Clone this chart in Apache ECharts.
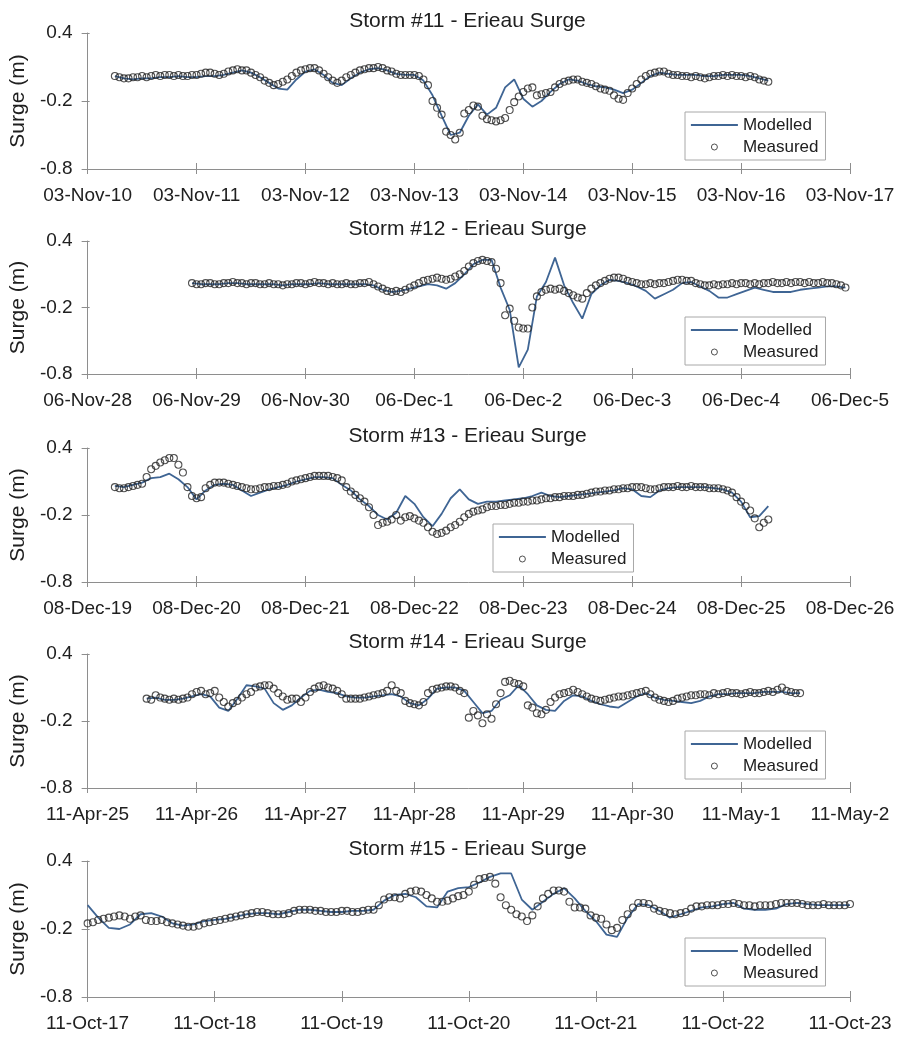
<!DOCTYPE html>
<html>
<head>
<meta charset="utf-8">
<title>Erieau Surge - Storms 11 to 15</title>
<script src="https://cdn.jsdelivr.net/npm/echarts@6/dist/echarts.min.js"></script>
<style>
  html, body { margin: 0; padding: 0; background: #ffffff; }
  #chart { width: 899px; height: 1038px; }
</style>
</head>
<body>
<div id="chart"></div>
<script>
// Storm surge at Erieau: measured hourly surge vs. modelled surge (m).
// x values are hours counted from the first date tick of each panel.

const stormTitles = [
  'Storm #11 - Erieau Surge',
  'Storm #12 - Erieau Surge',
  'Storm #13 - Erieau Surge',
  'Storm #14 - Erieau Surge',
  'Storm #15 - Erieau Surge'
];

const storm11Ticks = ['03-Nov-10', '03-Nov-11', '03-Nov-12', '03-Nov-13', '03-Nov-14', '03-Nov-15', '03-Nov-16', '03-Nov-17'];
const storm12Ticks = ['06-Nov-28', '06-Nov-29', '06-Nov-30', '06-Dec-1', '06-Dec-2', '06-Dec-3', '06-Dec-4', '06-Dec-5'];
const storm13Ticks = ['08-Dec-19', '08-Dec-20', '08-Dec-21', '08-Dec-22', '08-Dec-23', '08-Dec-24', '08-Dec-25', '08-Dec-26'];
const storm14Ticks = ['11-Apr-25', '11-Apr-26', '11-Apr-27', '11-Apr-28', '11-Apr-29', '11-Apr-30', '11-May-1', '11-May-2'];
const storm15Ticks = ['11-Oct-17', '11-Oct-18', '11-Oct-19', '11-Oct-20', '11-Oct-21', '11-Oct-22', '11-Oct-23'];

const surgeTicks = [-0.8, -0.2, 0.4];
const surgeTickLabels = ['-0.8', '-0.2', '0.4'];

const hoursPerTick = 24;
const measuredStep = 1;   // measured: hourly
const modelledStep = 2;   // modelled: every 2 hours

// ---- Storm #11 ----
const storm11MeasuredStart = 6;
const storm11Measured = [
  0.02, 0.01, 0.00, 0.00, 0.01, 0.01,
  0.02, 0.01, 0.02, 0.03, 0.02, 0.03, 0.03, 0.02, 0.03, 0.02, 0.02, 0.03,
  0.03, 0.04, 0.05, 0.05, 0.04, 0.03, 0.04, 0.06, 0.07, 0.08, 0.07, 0.07,
  0.05, 0.03, 0.01, -0.02, -0.04, -0.06, -0.05, -0.03, -0.01, 0.02, 0.05, 0.07,
  0.08, 0.09, 0.09, 0.07, 0.04, 0.01, -0.02, -0.04, -0.02, 0.01, 0.03, 0.05,
  0.07, 0.08, 0.09, 0.09, 0.10, 0.09, 0.07, 0.06, 0.04, 0.03, 0.03, 0.03,
  0.03, 0.02, -0.01, -0.06, -0.20, -0.26, -0.32, -0.47, -0.50, -0.54, -0.48, -0.31,
  -0.28, -0.24, -0.25, -0.33, -0.36, -0.37, -0.38, -0.37, -0.35, -0.28, -0.21, -0.16,
  -0.12, -0.09, -0.08, -0.15, -0.14, -0.13, -0.12, -0.08, -0.05, -0.03, -0.02, -0.01,
  -0.01, -0.03, -0.04, -0.05, -0.07, -0.09, -0.10, -0.11, -0.15, -0.18, -0.19, -0.13,
  -0.09, -0.05, -0.01, 0.02, 0.04, 0.05, 0.06, 0.06, 0.04, 0.03, 0.03, 0.02,
  0.02, 0.01, 0.02, 0.01, 0.00, 0.01, 0.02, 0.02, 0.03, 0.02, 0.03, 0.02,
  0.02, 0.01, 0.02, 0.01, -0.01, -0.02, -0.03
];
const storm11ModelledStart = 6;
const storm11Modelled = [
  0.02, 0.00, -0.01, 0.00, 0.00, 0.01, 0.01, 0.02, 0.01, 0.01,
  0.02, 0.02, 0.03, 0.05, 0.07, 0.05, 0.01, -0.04, -0.09, -0.10,
  -0.01, 0.06, 0.08, 0.03, -0.04, -0.06, 0.00, 0.05, 0.08, 0.09,
  0.07, 0.04, 0.03, 0.03, -0.02, -0.15, -0.33, -0.50, -0.48, -0.33,
  -0.23, -0.32, -0.26, -0.08, -0.01, -0.18, -0.25, -0.20, -0.12, -0.05,
  -0.01, -0.02, -0.05, -0.07, -0.08, -0.10, -0.13, -0.10, -0.04, 0.02,
  0.05, 0.04, 0.03, 0.03, 0.03, 0.02, 0.02, 0.03, 0.03, 0.03,
  0.02, 0.00, -0.02
];

// ---- Storm #12 ----
const storm12MeasuredStart = 23;
const storm12Measured = [
  0.02, 0.01, 0.01, 0.02, 0.02, 0.01, 0.01, 0.02, 0.02, 0.03, 0.02, 0.02,
  0.01, 0.02, 0.02, 0.01, 0.01, 0.02, 0.01, 0.01, 0.00, 0.01, 0.01, 0.02,
  0.02, 0.01, 0.02, 0.03, 0.02, 0.02, 0.01, 0.02, 0.01, 0.01, 0.02, 0.01,
  0.01, 0.02, 0.02, 0.03, 0.01, -0.01, -0.03, -0.05, -0.06, -0.05, -0.06, -0.04,
  -0.02, 0.00, 0.02, 0.04, 0.05, 0.06, 0.07, 0.06, 0.05, 0.06, 0.08, 0.10,
  0.13, 0.17, 0.20, 0.22, 0.23, 0.22, 0.21, 0.15, 0.02, -0.27, -0.21, -0.32,
  -0.38, -0.39, -0.39, -0.20, -0.10, -0.06, -0.04, -0.03, -0.04, -0.03, -0.05, -0.07,
  -0.09, -0.11, -0.12, -0.07, -0.03, 0.00, 0.02, 0.04, 0.06, 0.07, 0.07, 0.06,
  0.04, 0.03, 0.02, 0.01, 0.01, 0.02, 0.01, 0.02, 0.02, 0.03, 0.04, 0.05,
  0.05, 0.04, 0.04, 0.02, 0.01, 0.00, 0.00, 0.01, 0.00, 0.01, 0.01, 0.02,
  0.01, 0.02, 0.02, 0.01, 0.02, 0.01, 0.02, 0.02, 0.03, 0.02, 0.02, 0.03,
  0.02, 0.03, 0.03, 0.02, 0.03, 0.02, 0.02, 0.03, 0.02, 0.02, 0.01, 0.00,
  -0.02
];
const storm12ModelledStart = 23;
const storm12Modelled = [
  0.02, 0.01, 0.01, 0.01, 0.02, 0.02, 0.01, 0.01, 0.01, 0.01,
  0.00, 0.01, 0.01, 0.01, 0.02, 0.01, 0.01, 0.01, 0.01, 0.01,
  0.00, -0.04, -0.06, -0.05, -0.03, -0.01, 0.01, 0.00, -0.03, 0.02,
  0.10, 0.19, 0.23, 0.23, -0.02, -0.22, -0.74, -0.58, -0.10, 0.03,
  0.25, 0.00, -0.16, -0.30, -0.08, 0.00, 0.05, 0.04, 0.02, -0.01,
  -0.05, -0.12, -0.08, -0.04, 0.02, 0.03, -0.01, -0.05, -0.11, -0.11,
  -0.08, -0.05, -0.02, -0.04, -0.06, -0.06, -0.06, -0.04, -0.03, -0.02,
  -0.01, -0.01, -0.02
];

// ---- Storm #13 ----
const storm13MeasuredStart = 6;
const storm13Measured = [
  0.05, 0.04, 0.04, 0.05, 0.06, 0.07, 0.08, 0.14, 0.21, 0.24, 0.27, 0.29,
  0.31, 0.31, 0.25, 0.18, 0.05, -0.03, -0.05, -0.04, 0.04, 0.07, 0.09, 0.09,
  0.09, 0.08, 0.07, 0.06, 0.05, 0.04, 0.03, 0.03, 0.04, 0.05, 0.05, 0.06,
  0.06, 0.07, 0.08, 0.10, 0.11, 0.12, 0.13, 0.14, 0.15, 0.15, 0.15, 0.15,
  0.14, 0.13, 0.11, 0.05, 0.01, -0.02, -0.05, -0.08, -0.13, -0.20, -0.29, -0.27,
  -0.26, -0.24, -0.20, -0.25, -0.22, -0.21, -0.23, -0.25, -0.27, -0.31, -0.35, -0.37,
  -0.36, -0.34, -0.31, -0.29, -0.26, -0.22, -0.19, -0.17, -0.16, -0.15, -0.13, -0.12,
  -0.12, -0.11, -0.11, -0.10, -0.09, -0.09, -0.08, -0.08, -0.07, -0.07, -0.06, -0.05,
  -0.05, -0.04, -0.04, -0.03, -0.03, -0.03, -0.02, -0.02, -0.01, 0.00, 0.01, 0.01,
  0.02, 0.02, 0.03, 0.03, 0.04, 0.04, 0.05, 0.05, 0.05, 0.04, 0.03, 0.03,
  0.04, 0.05, 0.05, 0.05, 0.06, 0.05, 0.05, 0.06, 0.05, 0.05, 0.05, 0.04,
  0.04, 0.04, 0.03, 0.02, 0.00, -0.04, -0.08, -0.12, -0.16, -0.23, -0.31, -0.27,
  -0.24
];
const storm13ModelledStart = 6;
const storm13Modelled = [
  0.06, 0.05, 0.07, 0.09, 0.13, 0.14, 0.17, 0.12, 0.05, -0.06,
  0.02, 0.07, 0.08, 0.07, 0.02, -0.03, 0.00, 0.03, 0.05, 0.07,
  0.10, 0.12, 0.14, 0.14, 0.13, 0.07, 0.02, -0.06, -0.12, -0.20,
  -0.24, -0.18, -0.03, -0.10, -0.22, -0.30, -0.19, -0.05, 0.03, -0.06,
  -0.10, -0.08, -0.08, -0.07, -0.06, -0.05, -0.03, 0.00, -0.03, -0.04,
  -0.03, -0.02, -0.01, 0.00, 0.01, 0.02, 0.04, 0.03, -0.03, -0.04,
  0.02, 0.04, 0.05, 0.05, 0.05, 0.05, 0.04, 0.03, 0.00, -0.08,
  -0.22, -0.21, -0.12
];

// ---- Storm #14 ----
const storm14MeasuredStart = 13;
const storm14Measured = [
  0.00, -0.01, 0.03, 0.01, 0.00, -0.01, 0.00, -0.01, 0.00, 0.01, 0.04, 0.06,
  0.07, 0.04, 0.05, 0.07, 0.01, -0.03, -0.07, -0.04, -0.02, 0.01, 0.04, 0.06,
  0.10, 0.11, 0.12, 0.12, 0.09, 0.05, 0.02, -0.01, 0.00, 0.00, -0.03, 0.01,
  0.06, 0.09, 0.11, 0.12, 0.10, 0.09, 0.07, 0.04, 0.00, 0.00, 0.00, 0.00,
  0.01, 0.02, 0.03, 0.04, 0.05, 0.07, 0.12, 0.07, 0.05, -0.02, -0.04, -0.05,
  -0.06, -0.03, 0.05, 0.08, 0.09, 0.10, 0.11, 0.11, 0.10, 0.07, 0.05, -0.17,
  -0.11, -0.15, -0.22, -0.14, -0.18, -0.05, 0.05, 0.15, 0.16, 0.14, 0.13, 0.11,
  -0.06, -0.08, -0.13, -0.14, -0.10, -0.03, 0.01, 0.04, 0.05, 0.06, 0.08, 0.06,
  0.04, 0.02, 0.00, -0.01, -0.02, -0.01, 0.00, 0.01, 0.02, 0.02, 0.03, 0.04,
  0.05, 0.06, 0.07, 0.04, 0.01, -0.01, -0.02, -0.03, -0.02, 0.00, 0.01, 0.02,
  0.03, 0.03, 0.04, 0.04, 0.03, 0.05, 0.04, 0.05, 0.06, 0.05, 0.05, 0.04,
  0.05, 0.06, 0.05, 0.05, 0.06, 0.07, 0.06, 0.08, 0.10, 0.07, 0.06, 0.05,
  0.05
];
const storm14ModelledStart = 13;
const storm14Modelled = [
  0.00, 0.01, -0.01, -0.01, 0.00, 0.02, 0.04, 0.02, -0.08, -0.11,
  0.00, 0.12, 0.11, 0.09, -0.04, -0.10, -0.06, 0.01, 0.07, 0.08,
  0.06, 0.05, 0.02, 0.01, 0.01, 0.02, 0.03, 0.04, 0.02, -0.04,
  -0.06, 0.00, 0.09, 0.10, 0.10, 0.07, -0.03, -0.13, -0.11, -0.01,
  0.03, 0.12, 0.04, -0.06, -0.10, -0.11, -0.02, 0.03, 0.02, -0.02,
  -0.05, -0.07, -0.08, -0.03, 0.02, 0.05, 0.01, -0.01, -0.02, -0.03,
  -0.04, -0.02, 0.02, 0.04, 0.04, 0.05, 0.05, 0.05, 0.06, 0.06,
  0.06, 0.05, 0.05
];

// ---- Storm #15 ----
const storm15MeasuredStart = 0;
const storm15Measured = [
  -0.15, -0.14, -0.12, -0.11, -0.10, -0.09, -0.08, -0.09, -0.11, -0.09, -0.08, -0.12,
  -0.13, -0.13, -0.12, -0.14, -0.15, -0.16, -0.17, -0.18, -0.18, -0.17, -0.15, -0.14,
  -0.13, -0.12, -0.11, -0.10, -0.09, -0.08, -0.07, -0.06, -0.05, -0.05, -0.06, -0.07,
  -0.07, -0.07, -0.06, -0.04, -0.03, -0.03, -0.03, -0.04, -0.04, -0.05, -0.05, -0.05,
  -0.04, -0.04, -0.05, -0.05, -0.04, -0.03, -0.03, 0.01, 0.06, 0.08, 0.08, 0.07,
  0.11, 0.13, 0.14, 0.13, 0.10, 0.07, 0.04, 0.04, 0.05, 0.07, 0.09, 0.10,
  0.13, 0.19, 0.24, 0.25, 0.26, 0.20, 0.08, 0.01, -0.03, -0.07, -0.09, -0.13,
  -0.08, 0.00, 0.07, 0.11, 0.14, 0.14, 0.13, 0.04, -0.01, -0.01, -0.02, -0.08,
  -0.10, -0.11, -0.16, -0.21, -0.19, -0.12, -0.07, -0.01, 0.03, 0.03, 0.02, -0.02,
  -0.04, -0.05, -0.06, -0.07, -0.06, -0.05, -0.02, 0.00, 0.00, 0.01, 0.01, 0.01,
  0.02, 0.02, 0.03, 0.02, 0.01, 0.01, 0.00, 0.01, 0.01, 0.01, 0.02, 0.03,
  0.03, 0.03, 0.03, 0.02, 0.01, 0.01, 0.01, 0.02, 0.01, 0.01, 0.01, 0.01,
  0.02
];
const storm15ModelledStart = 0;
const storm15Modelled = [
  0.01, -0.10, -0.19, -0.20, -0.16, -0.07, -0.06, -0.09, -0.15, -0.17,
  -0.16, -0.13, -0.12, -0.11, -0.09, -0.07, -0.06, -0.06, -0.07, -0.05,
  -0.03, -0.03, -0.04, -0.05, -0.05, -0.04, -0.04, -0.03, 0.05, 0.10,
  0.11, 0.08, 0.00, -0.01, 0.13, 0.16, 0.17, 0.21, 0.26, 0.29,
  0.29, 0.06, -0.03, 0.04, 0.11, 0.16, 0.07, -0.04, -0.13, -0.25,
  -0.27, -0.10, 0.02, 0.01, -0.04, -0.10, -0.07, -0.04, -0.01, 0.00,
  0.02, 0.03, -0.02, -0.03, -0.03, -0.02, 0.02, 0.03, 0.02, 0.01,
  0.01, 0.01, 0.01
];

// ---- assemble panels ----
const storms = [
  { ticks: storm11Ticks, mStart: storm11MeasuredStart, measured: storm11Measured, pStart: storm11ModelledStart, modelled: storm11Modelled },
  { ticks: storm12Ticks, mStart: storm12MeasuredStart, measured: storm12Measured, pStart: storm12ModelledStart, modelled: storm12Modelled },
  { ticks: storm13Ticks, mStart: storm13MeasuredStart, measured: storm13Measured, pStart: storm13ModelledStart, modelled: storm13Modelled },
  { ticks: storm14Ticks, mStart: storm14MeasuredStart, measured: storm14Measured, pStart: storm14ModelledStart, modelled: storm14Modelled },
  { ticks: storm15Ticks, mStart: storm15MeasuredStart, measured: storm15Measured, pStart: storm15ModelledStart, modelled: storm15Modelled }
];

// panel geometry (pixels)
const panelLayout = [
  { top: 33,  height: 136, titleTop: 11,  legendLeft: 685, legendTop: 112 },
  { top: 241, height: 133, titleTop: 219, legendLeft: 685, legendTop: 317 },
  { top: 448, height: 134, titleTop: 426, legendLeft: 493, legendTop: 524 },
  { top: 654, height: 134, titleTop: 632, legendLeft: 685, legendTop: 731 },
  { top: 861, height: 136, titleTop: 839, legendLeft: 685, legendTop: 938 }
];
const gridLeft = 85, gridRight = 49;

const FONT = '"Liberation Sans", Arial, Helvetica, sans-serif';
const AXIS_COLOR = '#8e8e8e';
const TEXT_COLOR = '#202020';
const MODEL_COLOR = '#3f6594';
const MARKER_EDGE = '#262626';

function surgeLabel(v) {
  let best = 0;
  for (let i = 1; i < surgeTicks.length; i++) {
    if (Math.abs(surgeTicks[i] - v) < Math.abs(surgeTicks[best] - v)) best = i;
  }
  return surgeTickLabels[best];
}

const grid = [], xAxis = [], yAxis = [], series = [], title = [], legend = [];

storms.forEach((s, i) => {
  const L = panelLayout[i];
  const span = (s.ticks.length - 1) * hoursPerTick;

  grid.push({ left: gridLeft, right: gridRight, top: L.top, height: L.height, containLabel: false });

  title.push({
    text: stormTitles[i],
    left: gridLeft + (899 - gridLeft - gridRight) / 2,
    top: L.titleTop,
    textAlign: 'center',
    padding: 0,
    textStyle: { fontFamily: FONT, fontSize: 21, fontWeight: 'normal', color: TEXT_COLOR }
  });

  // main x axis: line at the bottom of the plot, outward ticks, date labels
  xAxis.push({
    type: 'value', gridIndex: i, position: 'bottom',
    min: 0, max: span, interval: hoursPerTick,
    axisLine: { show: true, onZero: false, lineStyle: { color: AXIS_COLOR, width: 1 } },
    axisTick: { show: true, inside: false, length: 5, lineStyle: { color: AXIS_COLOR, width: 1 } },
    axisLabel: {
      show: true, margin: 17, fontFamily: FONT, fontSize: 19, color: TEXT_COLOR,
      formatter: v => s.ticks[Math.round(v / hoursPerTick)] || ''
    },
    splitLine: { show: false }
  });
  // companion x axis: inward half of the ticks
  xAxis.push({
    type: 'value', gridIndex: i, position: 'bottom',
    min: 0, max: span, interval: hoursPerTick,
    axisLine: { show: false, onZero: false },
    axisTick: { show: true, inside: true, length: 6, lineStyle: { color: AXIS_COLOR, width: 1 } },
    axisLabel: { show: false },
    splitLine: { show: false }
  });

  yAxis.push({
    type: 'value', gridIndex: i, position: 'left',
    min: surgeTicks[0], max: surgeTicks[surgeTicks.length - 1],
    name: 'Surge (m)', nameLocation: 'middle', nameGap: 47, nameRotate: 90,
    nameTextStyle: { fontFamily: FONT, fontSize: 21, color: TEXT_COLOR },
    axisLine: { show: true, onZero: false, lineStyle: { color: AXIS_COLOR, width: 1 } },
    axisTick: { show: true, inside: false, length: 6, customValues: surgeTicks, lineStyle: { color: AXIS_COLOR, width: 1 } },
    axisLabel: {
      show: true, margin: 15, customValues: surgeTicks,
      fontFamily: FONT, fontSize: 19, color: TEXT_COLOR,
      formatter: v => surgeLabel(v)
    },
    splitLine: { show: false }
  });
  yAxis.push({
    type: 'value', gridIndex: i, position: 'left',
    min: surgeTicks[0], max: surgeTicks[surgeTicks.length - 1],
    axisLine: { show: false, onZero: false },
    axisTick: { show: true, inside: true, length: 2, customValues: surgeTicks, lineStyle: { color: AXIS_COLOR, width: 1 } },
    axisLabel: { show: false, customValues: surgeTicks },
    splitLine: { show: false }
  });

  series.push({
    type: 'line', name: 'Modelled',
    xAxisIndex: 2 * i, yAxisIndex: 2 * i,
    data: s.modelled.map((v, k) => [s.pStart + k * modelledStep, v]),
    symbol: 'none', showSymbol: false, smooth: false,
    lineStyle: { color: MODEL_COLOR, width: 1.8 },
    itemStyle: { color: MODEL_COLOR },
    z: 2, silent: true
  });
  series.push({
    type: 'scatter', name: 'Measured',
    xAxisIndex: 2 * i, yAxisIndex: 2 * i,
    data: s.measured.map((v, k) => [s.mStart + k * measuredStep, v]),
    symbol: 'circle', symbolSize: 7,
    itemStyle: { color: 'rgba(255,255,255,0)', borderColor: MARKER_EDGE, borderWidth: 1.1 },
    z: 3, silent: true
  });

  legend.push({
    left: L.legendLeft, top: L.legendTop,
    orient: 'vertical',
    padding: [2, 7, 2, 5],
    itemGap: 0, itemWidth: 47, itemHeight: 6,
    backgroundColor: '#ffffff',
    borderColor: '#a8a8a8', borderWidth: 1, borderRadius: 0,
    selectedMode: false,
    textStyle: { fontFamily: FONT, fontSize: 17, color: TEXT_COLOR, lineHeight: 22 },
    data: [
      { name: 'Modelled', itemStyle: { opacity: 0 }, lineStyle: { color: MODEL_COLOR, width: 1.8 } },
      { name: 'Measured', icon: 'circle', itemStyle: { color: 'rgba(255,255,255,0)', borderColor: MARKER_EDGE, borderWidth: 1 } }
    ]
  });
});

const chart = echarts.init(document.getElementById('chart'), null, { renderer: 'canvas' });
chart.setOption({
  backgroundColor: '#ffffff',
  animation: false,
  title, legend, grid, xAxis, yAxis, series
});
</script>
</body>
</html>
